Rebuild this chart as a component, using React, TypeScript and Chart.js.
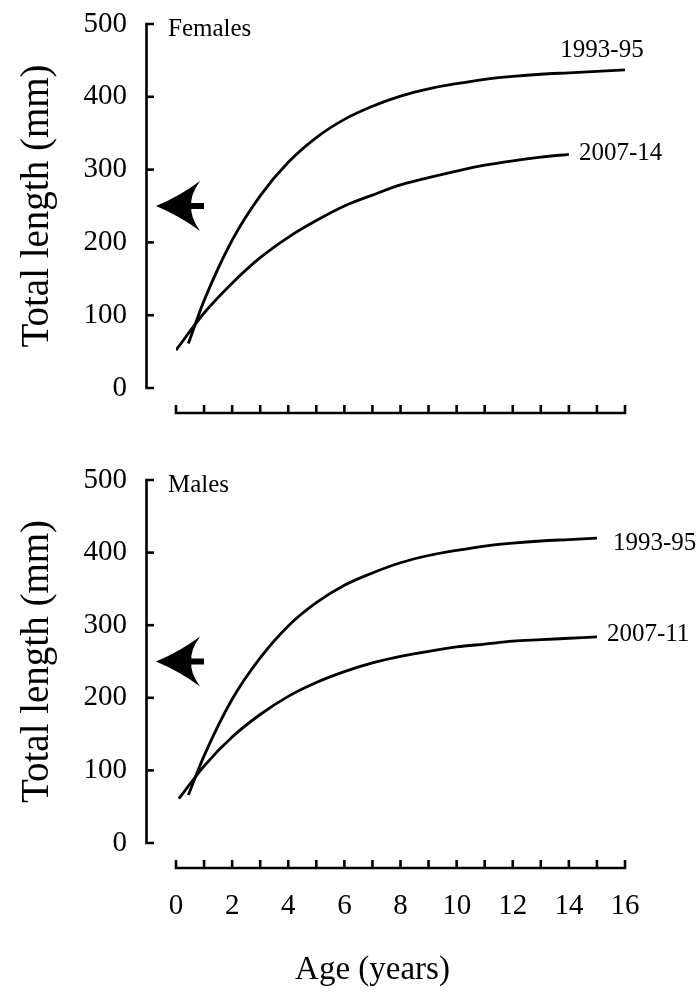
import React, { useEffect, useRef } from "react";
import { Chart, registerables } from "chart.js";

Chart.register(...registerables);

const FONT = '"Liberation Serif", "Times New Roman", Times, serif';

// ---- Data ----
const ageMinorTicks = [0, 1, 2, 3, 4, 5, 6, 7, 8, 9, 10, 11, 12, 13, 14, 15, 16];
const ageTickLabels = [0, 2, 4, 6, 8, 10, 12, 14, 16];
const lengthTicks = [0, 100, 200, 300, 400, 500];
const arrowLength = 250;

const femaleAges1993 = [0.44, 1, 2, 3, 4, 5, 6, 7, 8, 9, 10, 11, 12, 13, 14, 15, 16];
const femaleLen1993 = [61, 120, 203, 264, 310, 344, 369, 387, 401, 411, 418, 424, 428, 431, 433, 435, 437];
const femaleAges2007 = [0, 1, 2, 3, 4, 5, 6, 7, 8, 9, 10, 11, 12, 13, 14];
const femaleLen2007 = [52, 103, 144, 179, 207, 230, 250, 265, 279, 289, 298, 306, 312, 317, 321];

const maleAges1993 = [0.44, 1, 2, 3, 4, 5, 6, 7, 8, 9, 10, 11, 12, 13, 14, 15];
const maleLen1993 = [66, 120, 198, 255, 299, 331, 355, 372, 386, 396, 403, 409, 413, 416, 418, 420];
const maleAges2007 = [0.1, 1, 2, 3, 4, 5, 6, 7, 8, 9, 10, 11, 12, 13, 14, 15];
const maleLen2007 = [61, 106, 146, 177, 202, 221, 236, 248, 257, 264, 270, 274, 278, 280, 282, 284];

const femaleSeries = ["1993-95", "2007-14"];
const maleSeries = ["1993-95", "2007-11"];

type LabelPos = { dx: number; dy: number; align: CanvasTextAlign };

type PanelCfg = {
  title: string;
  names: string[];
  ages: number[][];
  lens: number[][];
  labelPos: LabelPos[];
  height: number;
  padTop: number;
  xHeight: number;
  showXLabels: boolean;
};

function toPoints(xs: number[], ys: number[]) {
  return xs.map((x, i) => ({ x, y: ys[i] }));
}

function makeDecor(cfg: PanelCfg) {
  return {
    id: "decor",
    afterDraw(chart: any) {
      const { ctx, chartArea } = chart;
      const x = chart.scales.x;
      const y = chart.scales.y;
      ctx.save();
      ctx.strokeStyle = "#000";
      ctx.fillStyle = "#000";
      ctx.lineWidth = 2.6;
      ctx.lineJoin = "miter";
      ctx.lineCap = "butt";

      // y axis (detached)
      const axisX = chartArea.left - 29.5;
      const tk = 7.5;
      const yBot = y.getPixelForValue(lengthTicks[0]);
      const yTop = y.getPixelForValue(lengthTicks[lengthTicks.length - 1]);
      ctx.beginPath();
      ctx.moveTo(axisX + tk, yTop);
      ctx.lineTo(axisX, yTop);
      ctx.lineTo(axisX, yBot);
      ctx.lineTo(axisX + tk, yBot);
      ctx.stroke();
      for (let i = 1; i < lengthTicks.length - 1; i++) {
        const py = y.getPixelForValue(lengthTicks[i]);
        ctx.beginPath();
        ctx.moveTo(axisX, py);
        ctx.lineTo(axisX + tk, py);
        ctx.stroke();
      }

      // x axis (detached)
      const axisY = chartArea.bottom + 25;
      const xl = x.getPixelForValue(ageMinorTicks[0]);
      const xr = x.getPixelForValue(ageMinorTicks[ageMinorTicks.length - 1]);
      ctx.beginPath();
      ctx.moveTo(xl, axisY - 8);
      ctx.lineTo(xl, axisY);
      ctx.lineTo(xr, axisY);
      ctx.lineTo(xr, axisY - 8);
      ctx.stroke();
      for (let i = 1; i < ageMinorTicks.length - 1; i++) {
        const px = x.getPixelForValue(ageMinorTicks[i]);
        ctx.beginPath();
        ctx.moveTo(px, axisY);
        ctx.lineTo(px, axisY - 8);
        ctx.stroke();
      }

      // arrow at arrowLength
      const ya = y.getPixelForValue(arrowLength);
      const tipX = axisX + 9.5;
      const backX = axisX + 53.5;
      const notchX = axisX + 45;
      ctx.beginPath();
      ctx.moveTo(tipX, ya);
      ctx.quadraticCurveTo(tipX + 24, ya - 10, backX, ya - 25);
      ctx.quadraticCurveTo(notchX - 2, ya - 10, notchX, ya);
      ctx.quadraticCurveTo(notchX - 2, ya + 10, backX, ya + 25);
      ctx.quadraticCurveTo(tipX + 24, ya + 10, tipX, ya);
      ctx.closePath();
      ctx.fill();
      ctx.fillRect(notchX - 2, ya - 3, axisX + 57.5 - (notchX - 2), 6);

      // panel title
      ctx.font = `25px ${FONT}`;
      ctx.textAlign = "left";
      ctx.textBaseline = "alphabetic";
      ctx.fillText(cfg.title, chartArea.left - 8, yTop + 12);

      // series labels at end of curves
      ctx.textBaseline = "middle";
      cfg.names.forEach((name, i) => {
        const ages = cfg.ages[i];
        const lens = cfg.lens[i];
        const px = x.getPixelForValue(ages[ages.length - 1]);
        const py = y.getPixelForValue(lens[lens.length - 1]);
        const p = cfg.labelPos[i];
        ctx.textAlign = p.align;
        ctx.fillText(name, px + p.dx, py + p.dy);
      });

      // x axis title
      if (cfg.showXLabels) {
        ctx.font = `33px ${FONT}`;
        ctx.textAlign = "center";
        ctx.textBaseline = "middle";
        ctx.fillText("Age (years)", chartArea.left + 196.5, chartArea.bottom + 127);
      }
      ctx.restore();
    },
  };
}

function Panel({ cfg }: { cfg: PanelCfg }) {
  const ref = useRef<HTMLCanvasElement | null>(null);
  useEffect(() => {
    if (!ref.current) return;
    const chart = new Chart(ref.current, {
      type: "line",
      data: {
        datasets: cfg.names.map((name, i) => ({
          label: name,
          data: toPoints(cfg.ages[i], cfg.lens[i]),
          borderColor: "#000",
          borderWidth: 2.8,
          pointRadius: 0,
          fill: false,
          cubicInterpolationMode: "monotone" as const,
        })),
      },
      options: {
        animation: false,
        responsive: false,
        events: [],
        layout: { padding: { top: cfg.padTop, left: 0, right: 72, bottom: 0 } },
        plugins: { legend: { display: false }, tooltip: { enabled: false } },
        scales: {
          x: {
            type: "linear",
            min: 0,
            max: 16,
            afterBuildTicks: (s: any) => {
              s.ticks = ageTickLabels.map((v) => ({ value: v }));
            },
            afterFit: (s: any) => {
              s.height = cfg.xHeight;
              s.paddingLeft = 0;
              s.paddingRight = 0;
              s.paddingTop = 0;
              s.paddingBottom = 0;
            },
            grid: { display: false },
            border: { display: false },
            ticks: {
              display: cfg.showXLabels,
              color: "#000",
              padding: 38,
              maxRotation: 0,
              autoSkip: false,
              font: { family: FONT, size: 29 },
            },
          },
          y: {
            type: "linear",
            min: 0,
            max: 500,
            afterBuildTicks: (s: any) => {
              s.ticks = lengthTicks.map((v) => ({ value: v }));
            },
            afterFit: (s: any) => {
              s.width = 176;
              s.paddingLeft = 0;
              s.paddingRight = 0;
              s.paddingTop = 0;
              s.paddingBottom = 0;
            },
            grid: { display: false },
            border: { display: false },
            ticks: {
              color: "#000",
              padding: 41,
              font: { family: FONT, size: 29 },
            },
            title: {
              display: true,
              text: "Total length (mm)",
              color: "#000",
              font: { family: FONT, size: 39 },
              padding: { top: 14, bottom: 0 },
            },
          },
        },
      },
      plugins: [makeDecor(cfg)],
    } as any);
    return () => chart.destroy();
  }, [cfg]);
  return <canvas ref={ref} width={697} height={cfg.height} style={{ display: "block" }} />;
}

const femaleCfg: PanelCfg = {
  title: "Females",
  names: femaleSeries,
  ages: [femaleAges1993, femaleAges2007],
  lens: [femaleLen1993, femaleLen2007],
  labelPos: [
    { dx: -23, dy: -19, align: "center" },
    { dx: 10, dy: -1, align: "left" },
  ],
  height: 440,
  padTop: 24,
  xHeight: 52,
  showXLabels: false,
};

const maleCfg: PanelCfg = {
  title: "Males",
  names: maleSeries,
  ages: [maleAges1993, maleAges2007],
  lens: [maleLen1993, maleLen2007],
  labelPos: [
    { dx: 16, dy: 5, align: "left" },
    { dx: 10, dy: -2, align: "left" },
  ],
  height: 556,
  padTop: 40,
  xHeight: 153,
  showXLabels: true,
};

export default function App() {
  return (
    <div style={{ position: "absolute", left: 0, top: 0, width: 697, height: 996, background: "#fff" }}>
      <Panel cfg={femaleCfg} />
      <Panel cfg={maleCfg} />
    </div>
  );
}
